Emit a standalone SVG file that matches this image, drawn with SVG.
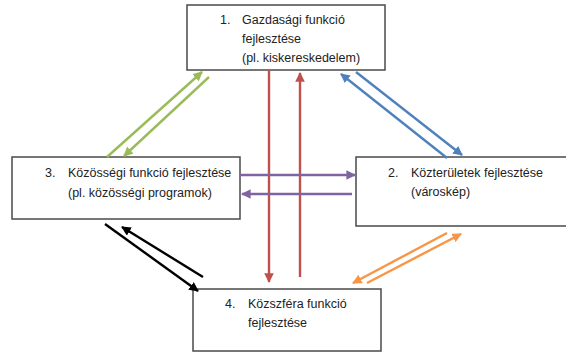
<svg xmlns="http://www.w3.org/2000/svg" width="566" height="353" viewBox="0 0 566 353">
<style>
.box{fill:#fff;stroke:#4a4a4a;stroke-width:1.5}
.t{font-family:"Liberation Sans",Arial,sans-serif;font-size:12.5px;fill:#222}
.c{fill:none;stroke-width:2.4}
</style>
<defs>
<marker id="ag" viewBox="0 0 10 10" refX="9" refY="5" markerWidth="4" markerHeight="4" orient="auto"><path d="M0,0L10,5L0,10z" fill="#9BBB59"/></marker>
<marker id="ab" viewBox="0 0 10 10" refX="9" refY="5" markerWidth="4" markerHeight="4" orient="auto"><path d="M0,0L10,5L0,10z" fill="#4F81BD"/></marker>
<marker id="ar" viewBox="0 0 10 10" refX="9" refY="5" markerWidth="4" markerHeight="4" orient="auto"><path d="M0,0L10,5L0,10z" fill="#C0504D"/></marker>
<marker id="ap" viewBox="0 0 10 10" refX="9" refY="5" markerWidth="4" markerHeight="4" orient="auto"><path d="M0,0L10,5L0,10z" fill="#8064A2"/></marker>
<marker id="ao" viewBox="0 0 10 10" refX="9" refY="5" markerWidth="4" markerHeight="4" orient="auto"><path d="M0,0L10,5L0,10z" fill="#F79646"/></marker>
<marker id="ak" viewBox="0 0 10 10" refX="9" refY="5" markerWidth="4" markerHeight="4" orient="auto"><path d="M0,0L10,5L0,10z" fill="#000"/></marker>
</defs>
<g id="n1">
<rect class="box" x="187" y="5" width="198" height="65"/>
<text class="t" x="220" y="24">1.</text>
<text class="t" x="242" y="24">Gazdasági funkció</text>
<text class="t" x="242" y="43">fejlesztése</text>
<text class="t" x="242" y="62">(pl. kiskereskedelem)</text>
</g>
<g id="n3">
<rect class="box" x="12" y="157" width="228" height="62"/>
<text class="t" x="45" y="177">3.</text>
<text class="t" x="68" y="177">Közösségi funkció fejlesztése</text>
<text class="t" x="68" y="197">(pl. közösségi programok)</text>
</g>
<g id="n2">
<rect class="box" x="356" y="157" width="214" height="69"/>
<text class="t" x="388" y="177">2.</text>
<text class="t" x="411" y="177">Közterületek fejlesztése</text>
<text class="t" x="411" y="196">(városkép)</text>
</g>
<g id="n4">
<rect class="box" x="193" y="289" width="188" height="62"/>
<text class="t" x="225" y="308">4.</text>
<text class="t" x="248" y="308">Közszféra funkció</text>
<text class="t" x="248" y="327">fejlesztése</text>
</g>
<g id="connectors">
<line class="c" stroke="#9BBB59" x1="107" y1="157" x2="202" y2="72" marker-end="url(#ag)"/>
<line class="c" stroke="#9BBB59" x1="209" y1="77" x2="124" y2="156" marker-end="url(#ag)"/>
<line class="c" stroke="#4F81BD" x1="447" y1="158" x2="341" y2="74" marker-end="url(#ab)"/>
<line class="c" stroke="#4F81BD" x1="356" y1="72" x2="462" y2="155" marker-end="url(#ab)"/>
<line class="c" stroke="#C0504D" x1="269" y1="70" x2="269" y2="282" marker-end="url(#ar)"/>
<line class="c" stroke="#C0504D" x1="300" y1="277" x2="300" y2="73" marker-end="url(#ar)"/>
<line class="c" stroke="#8064A2" x1="240" y1="175" x2="355" y2="175" marker-end="url(#ap)"/>
<line class="c" stroke="#8064A2" x1="352" y1="194" x2="242" y2="194" marker-end="url(#ap)"/>
<line class="c" stroke="#000" x1="105" y1="224" x2="198" y2="291" marker-end="url(#ak)"/>
<line class="c" stroke="#000" x1="203" y1="277" x2="122" y2="227" marker-end="url(#ak)"/>
<line class="c" stroke="#F79646" x1="447" y1="233" x2="353" y2="283" marker-end="url(#ao)"/>
<line class="c" stroke="#F79646" x1="367" y1="283" x2="461" y2="234" marker-end="url(#ao)"/>
</g>
</svg>
